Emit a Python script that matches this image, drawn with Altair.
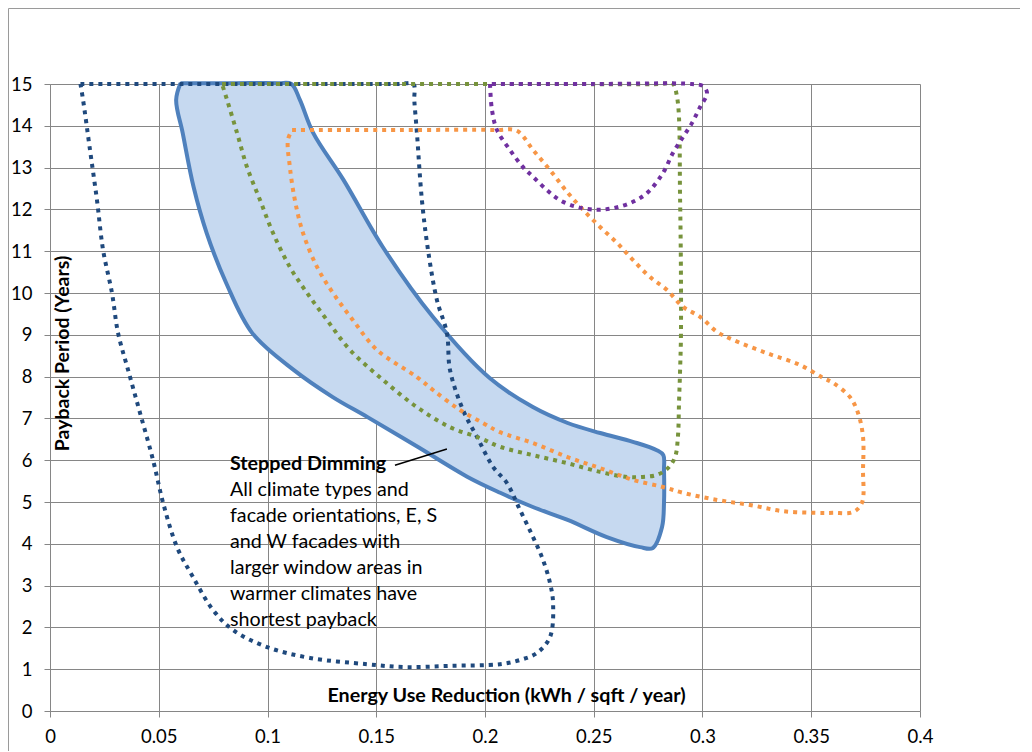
import altair as alt
import pandas as pd

# ---- axis ticks ----
x_ticks = [0, 0.05, 0.1, 0.15, 0.2, 0.25, 0.3, 0.35, 0.4]
y_ticks = list(range(0, 16))

# ---- Stepped dimming band (filled, solid outline) ----
band_x = [0.060, 0.085, 0.105, 0.111, 0.1149, 0.121, 0.135, 0.153, 0.176, 0.202, 0.222, 0.238,
          0.253, 0.268, 0.279, 0.282, 0.2823, 0.2823, 0.2814, 0.2772, 0.2713, 0.256, 0.238, 0.222,
          0.207, 0.192, 0.169, 0.146, 0.130, 0.112, 0.093, 0.081, 0.072, 0.066, 0.061, 0.058, 0.060]
band_y = [15.02, 15.02, 15.02, 15.0, 14.62, 13.83, 12.70, 11.10, 9.43, 7.97, 7.27, 6.89,
          6.65, 6.44, 6.24, 6.12, 5.77, 4.98, 4.40, 3.90, 3.92, 4.16, 4.57, 4.88,
          5.22, 5.60, 6.32, 7.03, 7.51, 8.16, 9.04, 10.24, 11.44, 12.54, 13.83, 14.62, 15.02]

# ---- dark blue dotted outline ----
navy_x = [0.014, 0.06, 0.11, 0.16, 0.167, 0.1675, 0.1687, 0.171, 0.1738, 0.1779, 0.1825, 0.1839,
          0.1899, 0.1963, 0.2037, 0.2101, 0.2161, 0.2221, 0.2267, 0.2299, 0.2313, 0.2299, 0.2239,
          0.2161, 0.2069, 0.1839, 0.1632, 0.1457, 0.1195, 0.0998, 0.0841, 0.0749, 0.0657, 0.0584,
          0.0520, 0.0474, 0.0414, 0.0359, 0.0313, 0.0285, 0.0244, 0.0216, 0.0184, 0.0152, 0.014]
navy_y = [15, 15, 15, 15, 15, 14.6, 13.83, 12.22, 11.03, 9.83, 9.04, 8.16,
          7.20, 6.56, 5.84, 5.45, 4.81, 4.16, 3.61, 3.06, 2.58, 1.77, 1.39,
          1.22, 1.12, 1.08, 1.05, 1.12, 1.27, 1.53, 1.94, 2.42, 3.21, 3.92,
          4.98, 6.00, 7.13, 8.16, 9.04, 10.0, 11.03, 12.22, 13.42, 14.62, 15]

# ---- green dotted outline ----
green_x = [0.0791, 0.13, 0.18, 0.23, 0.281, 0.286, 0.2883, 0.2897, 0.2901, 0.2897, 0.2892, 0.2887,
           0.2874, 0.2841, 0.2791, 0.2726, 0.2653, 0.2529, 0.2377, 0.2221, 0.2069, 0.1977, 0.1839,
           0.1687, 0.1531, 0.1379, 0.1274, 0.1182, 0.1103, 0.1025, 0.0966, 0.0906, 0.0860, 0.0814,
           0.0791]
green_y = [15, 15, 15, 15, 15, 15.02, 14.69, 12.22, 9.04, 8.16, 7.37, 6.56,
           6.08, 5.81, 5.65, 5.60, 5.60, 5.72, 5.93, 6.12, 6.32, 6.53, 6.79,
           7.27, 7.92, 8.64, 9.35, 10.0, 10.62, 11.44, 12.22, 13.01, 13.83, 14.62,
           15]

# ---- orange dotted outline ----
orange_x = [0.1113, 0.16, 0.205, 0.2147, 0.2221, 0.2299, 0.2377, 0.2451, 0.2529, 0.2607, 0.268,
            0.2759, 0.2837, 0.2910, 0.2989, 0.3067, 0.314, 0.3297, 0.3448, 0.3554, 0.36, 0.3678,
            0.3715, 0.3738, 0.3738, 0.3733, 0.3692, 0.36, 0.3526, 0.337, 0.3218, 0.3067, 0.291,
            0.2818, 0.268, 0.2529, 0.2377, 0.2221, 0.2069, 0.1991, 0.1885, 0.1761, 0.1687, 0.1503,
            0.1393, 0.1301, 0.1228, 0.1163, 0.1126, 0.1103, 0.1094, 0.1113]
orange_y = [13.9, 13.9, 13.9, 13.88, 13.42, 12.94, 12.42, 11.99, 11.58, 11.20, 10.79,
            10.38, 10.07, 9.67, 9.43, 9.07, 8.88, 8.56, 8.28, 7.97, 7.85, 7.51,
            7.13, 6.56, 5.77, 4.98, 4.76, 4.74, 4.74, 4.78, 4.93, 5.05, 5.22,
            5.36, 5.53, 5.81, 6.08, 6.41, 6.67, 6.89, 7.20, 7.68, 7.99, 8.64,
            9.35, 10.0, 10.62, 11.44, 12.22, 13.01, 13.66, 13.9]

# ---- purple dotted outline ----
purple_x = [0.2023, 0.2032, 0.2055, 0.2115, 0.2175, 0.2221, 0.2285, 0.2345, 0.2423, 0.2515, 0.2589,
            0.2667, 0.2745, 0.2818, 0.2864, 0.291, 0.2952, 0.2989, 0.3021, 0.3002, 0.295, 0.25,
            0.21, 0.2023]
purple_y = [15.0, 14.38, 13.90, 13.42, 13.01, 12.78, 12.46, 12.22, 12.06, 11.99, 12.03,
            12.15, 12.39, 12.87, 13.35, 13.73, 14.07, 14.45, 14.78, 14.95, 15.0, 15.0,
            15.0, 15.0]

# ---- annotation ----
leader_x = [0.1586, 0.1825]
leader_y = [5.88, 6.27]
ann_title = "Stepped Dimming"
ann_body = ["All climate types and", "facade orientations, E, S", "and W facades with",
            "larger window areas in", "warmer climates have", "shortest payback"]

FONT = "Lato"
GRID = "#868686"


def poly(xs, ys):
    return pd.DataFrame({"x": xs, "y": ys, "i": list(range(len(xs)))})


xscale = alt.Scale(domain=[0, 0.4], nice=False, zero=False)
yscale = alt.Scale(domain=[0, 15], nice=False, zero=False)

x_axis = alt.Axis(values=x_ticks, format="~g", grid=True, gridColor=GRID, gridWidth=1,
                  domainColor=GRID, tickColor=GRID, tickSize=6, labelFont=FONT,
                  labelFontSize=18.5, labelColor="black", labelPadding=10, labelFlush=False,
                  labelOverlap=False, title="Energy Use Reduction (kWh / sqft / year)",
                  titleFont=FONT, titleFontSize=19.7, titleFontWeight="bold", titleColor="black",
                  titleX=456, titleY=-16, titleAlign="center", titleBaseline="middle")
y_axis = alt.Axis(values=y_ticks, grid=True, gridColor=GRID, gridWidth=1, domainColor=GRID,
                  tickColor=GRID, tickSize=6, labelFont=FONT, labelFontSize=18.5,
                  labelColor="black", labelPadding=12, labelFlush=False, labelOverlap=False,
                  title="Payback Period (Years)", titleFont=FONT, titleFontSize=19.5,
                  titleFontWeight="bold", titleColor="black", titleX=12, titleY=269,
                  titleAngle=270, titleAlign="center", titleBaseline="middle")

X = alt.X("x:Q", scale=xscale, axis=x_axis)
Y = alt.Y("y:Q", scale=yscale, axis=y_axis)


def enc(chart):
    return chart.encode(x=X, y=Y, order="i:Q")


band = enc(alt.Chart(poly(band_x, band_y)).mark_line(
    fill="#C6D9F0", stroke="#4F81BD", strokeWidth=4, interpolate="catmull-rom",
    strokeJoin="round"))


def dotted(xs, ys, color):
    return enc(alt.Chart(poly(xs, ys)).mark_line(
        stroke=color, strokeWidth=4, strokeDash=[4, 5], strokeCap="butt",
        interpolate="catmull-rom"))


navy = dotted(navy_x, navy_y, "#1F497D")
green = dotted(green_x, green_y, "#77933C")
orange = dotted(orange_x, orange_y, "#F79646")
purple = dotted(purple_x, purple_y, "#7030A0")

leader = alt.Chart(pd.DataFrame({"x": [leader_x[0]], "y": [leader_y[0]],
                                 "x2": [leader_x[1]], "y2": [leader_y[1]]})).mark_rule(
    color="black", strokeWidth=1.5).encode(x=X, y=Y, x2="x2:Q", y2="y2:Q")

title_txt = alt.Chart(pd.DataFrame({"t": [ann_title]})).mark_text(
    font=FONT, fontSize=19.7, fontWeight="bold", align="left", baseline="alphabetic",
    color="black").encode(text="t:N", x=alt.value(180), y=alt.value(386))

body_txt = alt.Chart(pd.DataFrame({"t": ["\n".join(ann_body)]})).mark_text(
    font=FONT, fontSize=19.7, align="left", baseline="alphabetic", lineBreak="\n",
    lineHeight=26, color="black").encode(text="t:N", x=alt.value(180), y=alt.value(412))

frame_top = alt.Chart(pd.DataFrame({"a": [0]})).mark_rule(color="#9A9A9A", strokeWidth=1).encode(
    x=alt.value(-41.5), x2=alt.value(975), y=alt.value(-75.5))
frame_left = alt.Chart(pd.DataFrame({"a": [0]})).mark_rule(color="#9A9A9A", strokeWidth=1).encode(
    x=alt.value(-41.5), y=alt.value(-75.5), y2=alt.value(710))

chart = alt.layer(band, navy, green, orange, purple, leader, title_txt, body_txt,
                  frame_top, frame_left).properties(
    width=870, height=627,
    autosize=alt.AutoSizeParams(type="none"),
    padding={"left": 42, "top": 76, "right": 100, "bottom": 40},
).configure_view(stroke=None)

chart.save("out.html", embed_options={"renderer": "svg", "actions": False})
